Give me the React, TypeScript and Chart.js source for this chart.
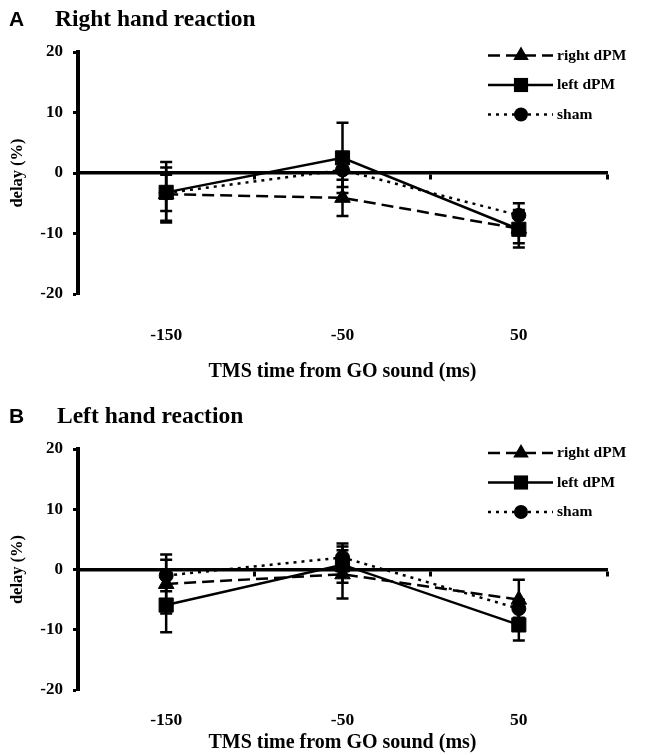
import React, { useEffect, useRef } from 'react';
import { Chart, registerables } from 'chart.js';

Chart.register(...registerables);

// ---------- data ----------
const xValues = [-150, -50, 50];
const xTickLabels = ['-150', '-50', '50'];
const seriesNames = ['right dPM', 'left dPM', 'sham'];
const yTickValues = [-20, -10, 0, 10, 20];

// Panel A: right hand reaction
const rightHandRightDPM = [-3.5, -4.1, -9.2];
const rightHandRightDPMErr = [4.4, 3.0, 3.1];
const rightHandLeftDPM = [-3.2, 2.5, -9.3];
const rightHandLeftDPMErr = [5.0, 5.8, 2.3];
const rightHandSham = [-3.3, 0.5, -7.0];
const rightHandShamErr = [3.0, 2.8, 2.0];

// Panel B: left hand reaction
const leftHandRightDPM = [-2.4, -0.8, -5.0];
const leftHandRightDPMErr = [4.9, 4.0, 3.3];
const leftHandLeftDPM = [-5.9, 0.8, -9.2];
const leftHandLeftDPMErr = [4.5, 3.0, 2.6];
const leftHandSham = [-1.0, 2.0, -6.5];
const leftHandShamErr = [2.6, 2.3, 1.5];

const SERIF = "'Liberation Serif', 'Times New Roman', Times, serif";
const SANS = "'Liberation Sans', Arial, Helvetica, sans-serif";

type Panel = {
  letter: string;
  title: string;
  top: number;
  height: number;
  padTop: number;
  x2Height: number;
  tickPad: number;
  titlePadBottom: number;
  headBaseline: number;
  titleX: number;
  legendTop: number;
  values: number[][];
  errors: number[][];
};

const panels: Panel[] = [
  {
    letter: 'A',
    title: 'Right hand reaction',
    top: 0,
    height: 390,
    padTop: 52,
    x2Height: 96,
    tickPad: 31,
    titlePadBottom: 6,
    headBaseline: 26,
    titleX: 55,
    legendTop: 3.5,
    values: [rightHandRightDPM, rightHandLeftDPM, rightHandSham],
    errors: [rightHandRightDPMErr, rightHandLeftDPMErr, rightHandShamErr],
  },
  {
    letter: 'B',
    title: 'Left hand reaction',
    top: 390,
    height: 365,
    padTop: 59,
    x2Height: 65,
    tickPad: 20,
    titlePadBottom: 0,
    headBaseline: 33,
    titleX: 57,
    legendTop: 4,
    values: [leftHandRightDPM, leftHandLeftDPM, leftHandSham],
    errors: [leftHandRightDPMErr, leftHandLeftDPMErr, leftHandShamErr],
  },
];

const seriesStyles = [
  { dash: [12, 6], point: 'triangle', radius: 9 },
  { dash: [], point: 'rect', radius: 10 },
  { dash: [3, 5], point: 'circle', radius: 7 },
];

function drawMarker(ctx: CanvasRenderingContext2D, style: string, x: number, y: number, r: number) {
  ctx.beginPath();
  if (style === 'triangle') {
    let rad = 0;
    ctx.moveTo(x + Math.sin(rad) * r, y - Math.cos(rad) * r);
    rad += (2 * Math.PI) / 3;
    ctx.lineTo(x + Math.sin(rad) * r, y - Math.cos(rad) * r);
    rad += (2 * Math.PI) / 3;
    ctx.lineTo(x + Math.sin(rad) * r, y - Math.cos(rad) * r);
    ctx.closePath();
  } else if (style === 'rect') {
    const s = Math.SQRT1_2 * r;
    ctx.rect(x - s, y - s, 2 * s, 2 * s);
  } else {
    ctx.arc(x, y, r, 0, Math.PI * 2);
  }
  ctx.fill();
}

function makePlugin(panel: Panel) {
  return {
    id: 'panelDecor' + panel.letter,
    beforeDatasetsDraw(chart: any) {
      const ctx: CanvasRenderingContext2D = chart.ctx;
      const yScale = chart.scales.y;
      ctx.save();
      ctx.strokeStyle = '#000';
      ctx.lineWidth = 2.5;
      ctx.setLineDash([]);
      panel.values.forEach((vals, i) => {
        const meta = chart.getDatasetMeta(i);
        vals.forEach((v, j) => {
          const e = panel.errors[i][j];
          const x = meta.data[j].x;
          const y1 = yScale.getPixelForValue(v + e);
          const y2 = yScale.getPixelForValue(v - e);
          ctx.beginPath();
          ctx.moveTo(x, y1);
          ctx.lineTo(x, y2);
          ctx.moveTo(x - 6, y1);
          ctx.lineTo(x + 6, y1);
          ctx.moveTo(x - 6, y2);
          ctx.lineTo(x + 6, y2);
          ctx.stroke();
        });
      });
      ctx.restore();
    },
    afterDraw(chart: any) {
      const ctx: CanvasRenderingContext2D = chart.ctx;
      const area = chart.chartArea;
      ctx.save();
      ctx.fillStyle = '#000';
      ctx.textBaseline = 'alphabetic';
      ctx.textAlign = 'left';
      ctx.font = `bold 21px ${SANS}`;
      ctx.fillText(panel.letter, 9, panel.headBaseline);
      ctx.font = `bold 23.5px ${SERIF}`;
      ctx.fillText(panel.title, panel.titleX, panel.headBaseline);

      // legend
      seriesNames.forEach((name, i) => {
        const st = seriesStyles[i];
        const y = area.top + panel.legendTop + i * 29.5;
        ctx.strokeStyle = '#000';
        ctx.lineWidth = 2.5;
        ctx.setLineDash(st.dash);
        ctx.beginPath();
        ctx.moveTo(488, y);
        ctx.lineTo(553, y);
        ctx.stroke();
        ctx.setLineDash([]);
        drawMarker(ctx, st.point, 521, y, st.radius);
        ctx.font = `bold 15.5px ${SERIF}`;
        ctx.textBaseline = 'middle';
        ctx.fillText(name, 557, y);
      });
      ctx.restore();
    },
  };
}

function PanelChart({ panel }: { panel: Panel }) {
  const ref = useRef<HTMLCanvasElement | null>(null);
  useEffect(() => {
    if (!ref.current) return;
    const datasets = panel.values.map((vals, i) => ({
      label: seriesNames[i],
      data: vals.map((v, j) => ({ x: xValues[j], y: v })),
      borderColor: '#000',
      backgroundColor: '#000',
      borderWidth: 2.5,
      borderDash: seriesStyles[i].dash,
      pointStyle: seriesStyles[i].point,
      pointRadius: seriesStyles[i].radius,
      pointBackgroundColor: '#000',
      pointBorderColor: '#000',
      pointBorderWidth: 1,
      fill: false,
      tension: 0,
      xAxisID: 'x',
      yAxisID: 'y',
    }));
    const chart = new Chart(ref.current, {
      type: 'line',
      data: { datasets: datasets as any },
      options: {
        responsive: false,
        animation: false,
        devicePixelRatio: 1,
        layout: { padding: { left: 4, right: 40, top: panel.padTop, bottom: 0 } },
        plugins: { legend: { display: false }, tooltip: { enabled: false }, title: { display: false } },
        scales: {
          x: {
            type: 'linear',
            position: { y: 0 } as any,
            min: -200,
            max: 100,
            ticks: { display: false, stepSize: 100 },
            grid: {
              display: true,
              drawOnChartArea: false,
              drawTicks: true,
              tickLength: 5,
              tickWidth: 3,
              tickColor: '#000',
              color: '#000',
            },
            border: { display: true, color: '#000', width: 3.5 },
          },
          x2: {
            type: 'linear',
            position: 'bottom',
            min: -200,
            max: 100,
            afterBuildTicks: (scale: any) => {
              scale.ticks = xValues.map((v) => ({ value: v }));
            },
            afterFit: (scale: any) => {
              scale.height = panel.x2Height;
            },
            ticks: {
              autoSkip: false,
              maxRotation: 0,
              padding: panel.tickPad,
              color: '#000',
              font: { family: SERIF, size: 17.5, weight: 'bold' },
              callback: (_v: any, idx: number) => xTickLabels[idx],
            },
            grid: { display: false, drawTicks: false },
            border: { display: false },
            title: {
              display: true,
              text: 'TMS time from GO sound (ms)',
              color: '#000',
              font: { family: SERIF, size: 20, weight: 'bold' },
              padding: { top: 4, bottom: panel.titlePadBottom },
            },
          },
          y: {
            type: 'linear',
            position: 'left',
            min: -20,
            max: 20,
            afterBuildTicks: (scale: any) => {
              scale.ticks = yTickValues.map((v) => ({ value: v }));
            },
            afterFit: (scale: any) => {
              scale.width = 74;
            },
            ticks: {
              padding: 10,
              color: '#000',
              font: { family: SERIF, size: 17, weight: 'bold' },
            },
            grid: {
              display: true,
              drawOnChartArea: false,
              drawTicks: true,
              tickLength: 5,
              tickWidth: 3,
              tickColor: '#000',
              color: '#000',
            },
            border: { display: true, color: '#000', width: 4 },
            title: {
              display: true,
              text: 'delay (%)',
              color: '#000',
              font: { family: SERIF, size: 16.5, weight: 'bold' },
              padding: { top: 4, bottom: 4 },
            },
          },
        },
      } as any,
      plugins: [makePlugin(panel) as any],
    });
    return () => chart.destroy();
  }, [panel]);
  return (
    <canvas
      ref={ref}
      width={647}
      height={panel.height}
      style={{ position: 'absolute', left: 0, top: panel.top, width: 647, height: panel.height }}
    />
  );
}

export default function App() {
  return (
    <div style={{ position: 'absolute', left: 0, top: 0, width: 647, height: 755, background: '#fff' }}>
      {panels.map((p) => (
        <PanelChart key={p.letter} panel={p} />
      ))}
    </div>
  );
}
